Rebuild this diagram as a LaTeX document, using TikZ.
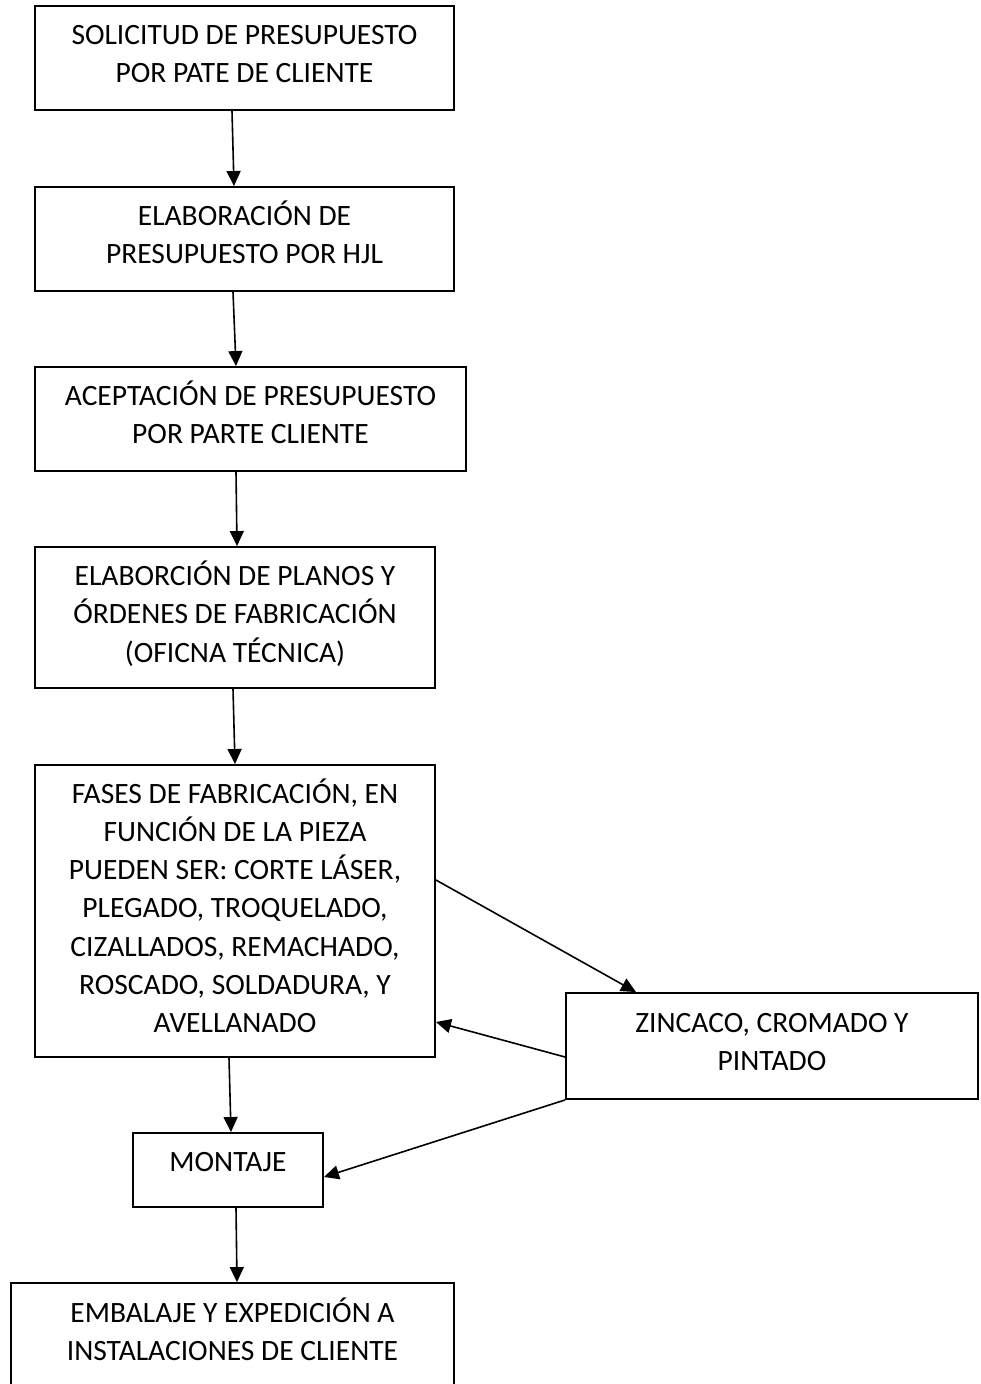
\documentclass[tikz,border=0pt]{standalone}
\usepackage{fontspec}
\setmainfont{Carlito}
\usetikzlibrary{arrows.meta}
\begin{document}
\begin{tikzpicture}[x=1pt,y=-1pt,
  box/.style={draw=black, line width=1.9pt, inner sep=0pt},
  txt/.style={inner sep=0pt, anchor=base, font=\fontsize{29.5}{38.3}\selectfont},
  arr/.style={draw=black, line width=1.6pt, -{Triangle[length=15pt,width=14pt]}}]
\useasboundingbox (0,0) rectangle (981,1384);
% boxes
\node[box, minimum width=419pt, minimum height=104pt] (b1) at (244.5,58) {};
\node[box, minimum width=419pt, minimum height=104pt] (b2) at (244.5,239) {};
\node[box, minimum width=431pt, minimum height=104pt] (b3) at (250.5,419) {};
\node[box, minimum width=400pt, minimum height=141pt] (b4) at (235,617.5) {};
\node[box, minimum width=400pt, minimum height=292pt] (b5) at (235,911) {};
\node[box, minimum width=412pt, minimum height=106pt] (bz) at (772,1046) {};
\node[box, minimum width=190pt, minimum height=74pt] (bm) at (228,1170) {};
\node[box, minimum width=443pt, minimum height=117pt] (b7) at (232.5,1341.5) {};
% texts
\node[txt] (t1) at ([yshift=-39.5pt]b1.north) {\begin{tabular}[t]{@{}c@{}}SOLICITUD DE PRESUPUESTO\\POR PATE DE CLIENTE\end{tabular}};
\node[txt] (t2) at ([yshift=-39.5pt]b2.north) {\begin{tabular}[t]{@{}c@{}}ELABORACIÓN DE\\PRESUPUESTO POR HJL\end{tabular}};
\node[txt] (t3) at ([yshift=-39.5pt]b3.north) {\begin{tabular}[t]{@{}c@{}}ACEPTACIÓN DE PRESUPUESTO\\POR PARTE CLIENTE\end{tabular}};
\node[txt] (t4) at ([yshift=-39.5pt]b4.north) {\begin{tabular}[t]{@{}c@{}}ELABORCIÓN DE PLANOS Y\\ÓRDENES DE FABRICACIÓN\\(OFICNA TÉCNICA)\end{tabular}};
\node[txt] (t5) at ([yshift=-39pt]b5.north) {\begin{tabular}[t]{@{}c@{}}FASES DE FABRICACIÓN, EN\\FUNCIÓN DE LA PIEZA\\PUEDEN SER: CORTE LÁSER,\\PLEGADO, TROQUELADO,\\CIZALLADOS, REMACHADO,\\ROSCADO, SOLDADURA, Y\\AVELLANADO\end{tabular}};
\node[txt] (tz) at ([yshift=-40.5pt]bz.north) {\begin{tabular}[t]{@{}c@{}}ZINCACO, CROMADO Y\\PINTADO\end{tabular}};
\node[txt] (tm) at ([yshift=-39.5pt]bm.north) {MONTAJE};
\node[txt] (t7) at ([yshift=-40.5pt]b7.north) {\begin{tabular}[t]{@{}c@{}}EMBALAJE Y EXPEDICIÓN A\\INSTALACIONES DE CLIENTE\end{tabular}};
% connectors
\draw[arr] ([xshift=-12.5pt]b1.south) -- ([xshift=-10.5pt]b2.north);
\draw[arr] ([xshift=-11.5pt]b2.south) -- ([xshift=-14.5pt]b3.north);
\draw[arr] ([xshift=-14.5pt]b3.south) -- ([xshift=2pt]b4.north);
\draw[arr] ([xshift=-2pt]b4.south) -- (b5.north);
\draw[arr] ([xshift=-6pt]b5.south) -- ([xshift=3pt]bm.north);
\draw[arr] ([xshift=8pt]bm.south) -- ([xshift=4.5pt]b7.north);
\draw[arr] ([yshift=31pt]b5.east) -- ([xshift=-136pt]bz.north);
\draw[arr] ([yshift=-11pt]bz.west) -- ([yshift=-111pt]b5.east);
\draw[arr] (bz.south west) -- ([yshift=-7pt]bm.east);
\end{tikzpicture}
\end{document}
